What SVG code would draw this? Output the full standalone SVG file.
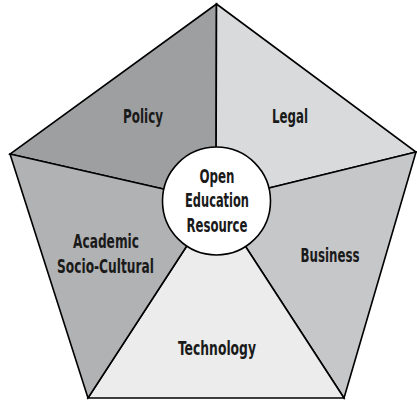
<svg xmlns="http://www.w3.org/2000/svg" width="417" height="400" viewBox="0 0 417 400">
<style>
.reg{stroke:#000;stroke-width:1.6;stroke-linejoin:miter}
.lbl{font-family:"Liberation Sans Narrow","DejaVu Sans Condensed","Liberation Sans",sans-serif;font-stretch:condensed;font-weight:bold;font-size:20px;fill:#1a1a1a;text-anchor:middle}
</style>
<rect width="417" height="400" fill="#fff"/>
<g id="policy">
<polygon class="reg" fill="#9e9fa1" points="216.5,4 10,154 216,201"/>
<text class="lbl" x="143" y="123" textLength="40" lengthAdjust="spacingAndGlyphs">Policy</text>
</g>
<g id="legal">
<polygon class="reg" fill="#d9dadc" points="216.5,4 416,152 216,201"/>
<text class="lbl" x="290" y="123" textLength="36" lengthAdjust="spacingAndGlyphs">Legal</text>
</g>
<g id="business">
<polygon class="reg" fill="#c6c7c9" points="416,152 344,398 216,201"/>
<text class="lbl" x="330" y="262" textLength="59" lengthAdjust="spacingAndGlyphs">Business</text>
</g>
<g id="technology">
<polygon class="reg" fill="#ebeceb" points="344,398 88,398 216,201"/>
<text class="lbl" x="217" y="355" textLength="78" lengthAdjust="spacingAndGlyphs">Technology</text>
</g>
<g id="academic">
<polygon class="reg" fill="#b1b2b4" points="88,398 10,154 216,201"/>
<text class="lbl" x="106" y="248" textLength="66" lengthAdjust="spacingAndGlyphs">Academic</text>
<text class="lbl" x="105.5" y="273" textLength="97" lengthAdjust="spacingAndGlyphs">Socio-Cultural</text>
</g>
<g id="oer">
<circle cx="216.5" cy="201" r="54" fill="#fff" stroke="#000" stroke-width="1.6"/>
<text class="lbl" x="217" y="183" textLength="35" lengthAdjust="spacingAndGlyphs">Open</text>
<text class="lbl" x="217" y="207" textLength="64" lengthAdjust="spacingAndGlyphs">Education</text>
<text class="lbl" x="217" y="232" textLength="61" lengthAdjust="spacingAndGlyphs">Resource</text>
</g>
</svg>
